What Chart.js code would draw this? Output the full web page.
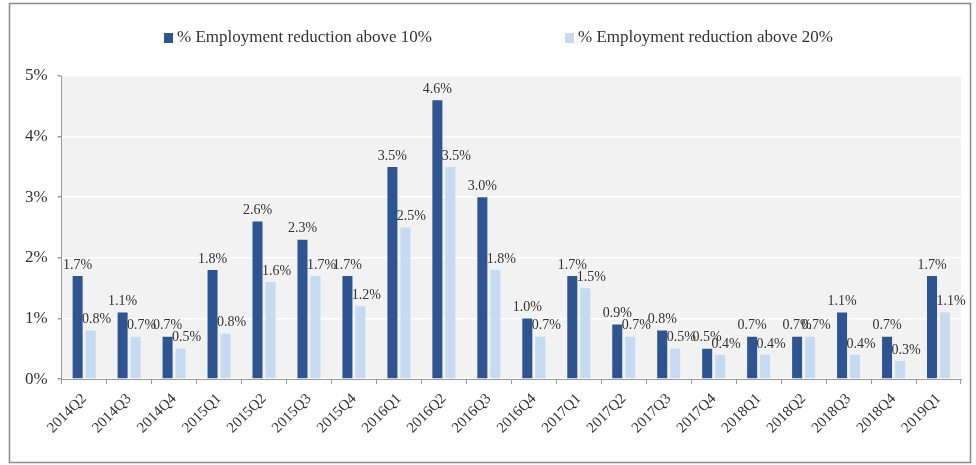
<!DOCTYPE html>
<html>
<head>
<meta charset="utf-8">
<script src="https://cdn.jsdelivr.net/npm/chart.js@4"></script>
<style>
  body { margin: 0; background: #fff; }
  #wrap { width: 976px; height: 465px; position: relative; }
</style>
</head>
<body>
<div id="wrap"><canvas id="empChart" width="976" height="465"></canvas></div>
<script>
const quarters = ['2014Q2', '2014Q3', '2014Q4', '2015Q1', '2015Q2', '2015Q3', '2015Q4', '2016Q1', '2016Q2', '2016Q3',
  '2016Q4', '2017Q1', '2017Q2', '2017Q3', '2017Q4', '2018Q1', '2018Q2', '2018Q3', '2018Q4', '2019Q1'];
const above10 = [1.7, 1.1, 0.7, 1.8, 2.6, 2.3, 1.7, 3.5, 4.6, 3.0, 1.0, 1.7, 0.9, 0.8, 0.5, 0.7, 0.7, 1.1, 0.7, 1.7];
const above20 = [0.8, 0.7, 0.5, 0.75, 1.6, 1.7, 1.2, 2.5, 3.5, 1.8, 0.7, 1.5, 0.7, 0.5, 0.4, 0.4, 0.7, 0.4, 0.3, 1.1];
const seriesNames = ['% Employment reduction above 10%', '% Employment reduction above 20%'];
const yTicks = [0, 1, 2, 3, 4, 5];

const darkBlue = '#2e5592';
const lightBlue = '#c6daf2';
const serif = '"Liberation Serif", "DejaVu Serif", serif';

// gray plot background + outer frame
const backdrop = {
  id: 'backdrop',
  beforeDraw(chart) {
    const { ctx, chartArea: a } = chart;
    ctx.save();
    ctx.fillStyle = '#f2f2f2';
    ctx.fillRect(a.left, a.top, a.right - a.left, a.bottom - a.top);
    ctx.restore();
  },
  afterDraw(chart) {
    const ctx = chart.ctx;
    ctx.save();
    ctx.strokeStyle = '#8a8a8a';
    ctx.lineWidth = 1.5;
    ctx.strokeRect(9.5, 3.5, 961, 459);
    ctx.restore();
  }
};

// value labels above the bars
const valueLabels = {
  id: 'valueLabels',
  afterDatasetsDraw(chart) {
    const ctx = chart.ctx;
    ctx.save();
    ctx.font = '14px ' + serif;
    ctx.fillStyle = '#333';
    ctx.textAlign = 'center';
    ctx.textBaseline = 'bottom';
    chart.data.datasets.forEach((ds, i) => {
      chart.getDatasetMeta(i).data.forEach((bar, j) => {
        ctx.fillText(ds.data[j].toFixed(1) + '%', bar.x + (i === 1 ? 6 : 0), bar.y - 4);
      });
    });
    ctx.restore();
  }
};

// legend spread out like the original
const wideLegend = {
  id: 'wideLegend',
  afterDraw(chart) {
    const ctx = chart.ctx;
    const xs = [164, 565];
    ctx.save();
    ctx.font = '17px ' + serif;
    ctx.textBaseline = 'middle';
    chart.data.datasets.forEach((ds, i) => {
      ctx.fillStyle = ds.backgroundColor;
      ctx.fillRect(xs[i], 33, 9, 10);
      ctx.fillStyle = '#333';
      ctx.fillText(seriesNames[i], xs[i] + 13, 38);
    });
    ctx.restore();
  }
};

new Chart(document.getElementById('empChart'), {
  type: 'bar',
  data: {
    labels: quarters,
    datasets: [
      { label: seriesNames[0], data: above10, backgroundColor: darkBlue },
      { label: seriesNames[1], data: above20, backgroundColor: lightBlue }
    ]
  },
  options: {
    responsive: false,
    animation: false,
    layout: { padding: { top: 76, right: 15, bottom: 22, left: 15 } },
    datasets: { bar: { categoryPercentage: 0.578, barPercentage: 0.77 } },
    plugins: {
      legend: { display: false },
      tooltip: { enabled: false }
    },
    scales: {
      x: {
        grid: { drawOnChartArea: false, tickLength: 5, tickColor: '#999', offset: true },
        border: { color: '#999' },
        ticks: {
          minRotation: 45, maxRotation: 45,
          color: '#333',
          padding: 6,
          font: { family: serif, size: 15 }
        }
      },
      y: {
        min: 0, max: 5,
        afterBuildTicks(scale) { scale.ticks = yTicks.map(v => ({ value: v })); },
        grid: { color: '#ffffff', lineWidth: 1.5, tickLength: 4, tickColor: '#999' },
        border: { color: '#999' },
        ticks: {
          color: '#333',
          padding: 10,
          font: { family: serif, size: 17 },
          callback: v => v + '%'
        }
      }
    }
  },
  plugins: [backdrop, valueLabels, wideLegend]
});
</script>
</body>
</html>
